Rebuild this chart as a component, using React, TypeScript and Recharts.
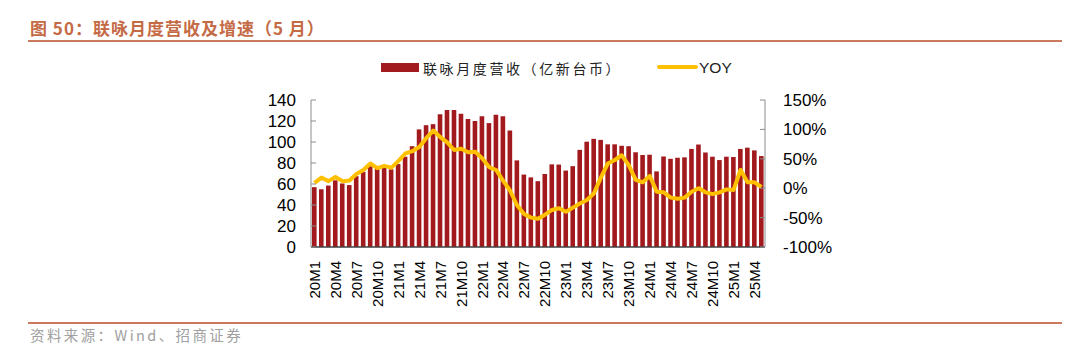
import { ComposedChart, Bar, Line, XAxis, YAxis } from 'recharts';

// 月份
const MONTHS = [
  '20M1', '20M2', '20M3', '20M4', '20M5', '20M6', '20M7', '20M8', '20M9', '20M10', '20M11', '20M12',
  '21M1', '21M2', '21M3', '21M4', '21M5', '21M6', '21M7', '21M8', '21M9', '21M10', '21M11', '21M12',
  '22M1', '22M2', '22M3', '22M4', '22M5', '22M6', '22M7', '22M8', '22M9', '22M10', '22M11', '22M12',
  '23M1', '23M2', '23M3', '23M4', '23M5', '23M6', '23M7', '23M8', '23M9', '23M10', '23M11', '23M12',
  '24M1', '24M2', '24M3', '24M4', '24M5', '24M6', '24M7', '24M8', '24M9', '24M10', '24M11', '24M12',
  '25M1', '25M2', '25M3', '25M4', '25M5',
];

// 联咏月度营收（亿新台币）
const REVENUE = [
  57, 55, 58.5, 63.5, 60.5, 59, 67.5, 71.5, 77, 74.5, 75.5, 74,
  79, 86, 96, 112, 116, 117, 126.5, 130.5, 130.5, 127, 122, 120,
  124.5, 118, 126, 124.5, 111, 82.5, 69, 66.3, 62.7, 69.5, 78.7, 78.5,
  72.8, 77, 92.5, 100.3, 103, 102, 97.8, 97.8, 96.4, 96, 90.2, 87.6,
  87.9, 72, 86.2, 84, 85, 85.4, 93.4, 97.6, 90, 86, 82.8, 86,
  85.7, 93.4, 94.6, 92, 86.6,
];

// YOY (%)
const YOY = [
  9, 18, 12, 19, 12, 13, 24, 31, 42, 34, 38, 35,
  46, 59, 63, 70, 85, 98, 87, 78, 65, 67, 61, 62,
  51, 36, 31, 13, -4, -29, -44, -50, -52, -45, -37, -34,
  -40, -33, -26, -20, -9, 18, 42, 48, 56, 39, 14, 10,
  21, -6, -7, -16, -18, -16, -6, 0, -7, -10, -7, -2,
  -3, 31, 10, 10, 2,
];

const XTICKS = [
  '20M1', '20M4', '20M7', '20M10', '21M1', '21M4', '21M7', '21M10',
  '22M1', '22M4', '22M7', '22M10', '23M1', '23M4', '23M7', '23M10',
  '24M1', '24M4', '24M7', '24M10', '25M1', '25M4',
];
const LEFT_TICKS = [0, 20, 40, 60, 80, 100, 120, 140];
const RIGHT_TICKS = [-100, -50, 0, 50, 100, 150];

const data = MONTHS.map((m, i) => ({ month: m, revenue: REVENUE[i], yoy: YOY[i] }));

const NUM_FONT = "'Liberation Sans', Arial, sans-serif";
const CJK_FONT = "'Noto Sans CJK SC', 'Noto Sans', sans-serif";
const BAR_COLOR = '#A31A1E';
const LINE_COLOR = '#FFC000';
const RULE_COLOR = '#CB7B5B';

function MonthTick(props: any) {
  const { x, y, payload } = props;
  if (!XTICKS.includes(payload.value)) return null;
  return (
    <text
      x={x}
      y={y}
      transform={`rotate(-90, ${x}, ${y})`}
      textAnchor="end"
      dy="0.36em"
      fontSize={15}
      fontFamily={NUM_FONT}
      fill="#000"
    >
      {payload.value}
    </text>
  );
}

export default function App() {
  return (
    <div style={{ position: 'absolute', left: 0, top: 0, width: 1080, height: 353, background: '#fff', overflow: 'hidden' }}>
      <div style={{ position: 'absolute', left: 30, top: 16, fontFamily: CJK_FONT, fontSize: 17, fontWeight: 700, color: '#C46A45', letterSpacing: 1, whiteSpace: 'nowrap', lineHeight: '24px' }}>
        图 50：联咏月度营收及增速（5 月）
      </div>
      <div style={{ position: 'absolute', left: 28, top: 40, width: 1034, height: 2, background: RULE_COLOR }} />

      {/* legend */}
      <div style={{ position: 'absolute', left: 381, top: 63, width: 38, height: 9, background: BAR_COLOR }} />
      <div style={{ position: 'absolute', left: 423, top: 57, fontFamily: CJK_FONT, fontSize: 14, letterSpacing: 2.6, color: '#222', lineHeight: '22px', whiteSpace: 'nowrap' }}>
        联咏月度营收（亿新台币）
      </div>
      <div style={{ position: 'absolute', left: 657, top: 65, width: 41, height: 4, borderRadius: 2, background: LINE_COLOR }} />
      <div style={{ position: 'absolute', left: 699, top: 57, fontFamily: "'Liberation Sans Narrow', 'Liberation Sans', sans-serif", fontSize: 15.5, color: '#222', lineHeight: '22px' }}>
        YOY
      </div>

      <div style={{ position: 'absolute', left: 0, top: 0 }}>
        <ComposedChart
          width={1080}
          height={353}
          data={data}
          margin={{ top: 100, right: 245, bottom: 36, left: 251 }}
          barSize={4.6}
        >
          <XAxis
            dataKey="month"
            interval={0}
            height={70}
            tickLine={false}
            tickMargin={8}
            axisLine={{ stroke: '#404040', strokeWidth: 1.5 }}
            tick={<MonthTick />}
          />
          <YAxis
            yAxisId="left"
            width={60}
            domain={[0, 140]}
            ticks={LEFT_TICKS}
            interval={0}
            tickSize={-5}
            tickMargin={20}
            axisLine={{ stroke: '#8c8c8c' }}
            tickLine={{ stroke: '#8c8c8c' }}
            tick={{ fontSize: 17, fill: '#000', fontFamily: NUM_FONT }}
          />
          <YAxis
            yAxisId="right"
            orientation="right"
            width={70}
            domain={[-100, 150]}
            ticks={RIGHT_TICKS}
            interval={0}
            tickSize={-5}
            tickMargin={23}
            axisLine={{ stroke: '#8c8c8c' }}
            tickLine={{ stroke: '#8c8c8c' }}
            tickFormatter={(v: number) => `${v}%`}
            tick={{ fontSize: 17, fill: '#000', fontFamily: NUM_FONT, textAnchor: 'start' }}
          />
          <Bar yAxisId="left" dataKey="revenue" fill={BAR_COLOR} isAnimationActive={false} />
          <Line
            yAxisId="right"
            type="linear"
            dataKey="yoy"
            stroke={LINE_COLOR}
            strokeWidth={4}
            strokeLinejoin="round"
            dot={false}
            activeDot={false}
            isAnimationActive={false}
          />
        </ComposedChart>
      </div>

      <div style={{ position: 'absolute', left: 28, top: 322, width: 1034, height: 2, background: RULE_COLOR }} />
      <div style={{ position: 'absolute', left: 30, top: 324, fontFamily: CJK_FONT, fontSize: 14.5, letterSpacing: 2.4, color: '#A0A0A0', lineHeight: '22px', whiteSpace: 'nowrap' }}>
        资料来源：Wind、招商证券
      </div>
    </div>
  );
}
